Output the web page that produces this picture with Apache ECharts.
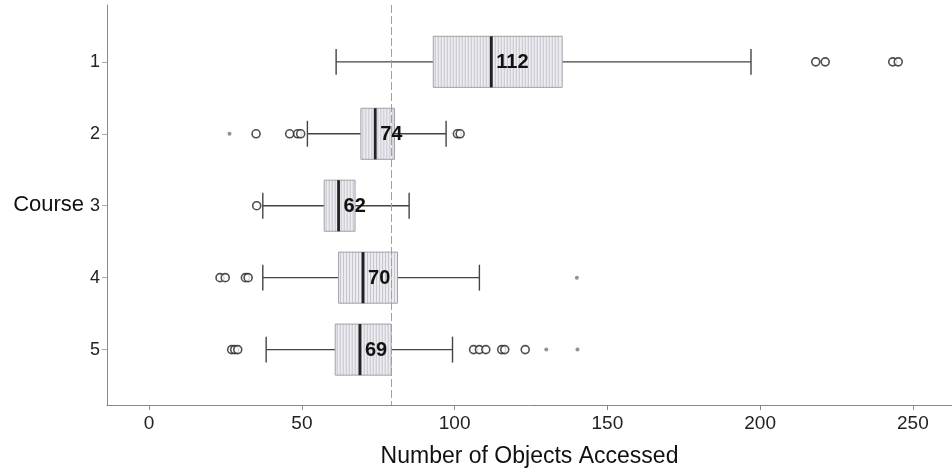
<!DOCTYPE html>
<html><head><meta charset="utf-8">
<script src="https://cdn.jsdelivr.net/npm/echarts@6/dist/echarts.min.js"></script>
<style>html,body{margin:0;padding:0;background:#fff}#c{width:952px;height:469px}</style>
</head><body><div id="c"></div>
<script>
const courses = [1, 2, 3, 4, 5];
const whiskerLow = [61.2, 51.8, 37.2, 37.2, 38.3];
const q1 = [93, 69.3, 57.3, 62, 60.9];
const median = [112, 74, 62, 70, 69];
const q3 = [135.2, 80.3, 67.4, 81.3, 79.2];
const whiskerHigh = [197, 97.2, 85.1, 108.1, 99.3];
const outliers = [
  [218.2, 221.3, 243.4, 245.2],
  [35, 46, 48.6, 49.6, 100.9, 101.8],
  [35.2],
  [23.2, 24.9, 31.5, 32.4],
  [27, 28, 29, 106.2, 108.1, 110.2, 115.4, 116.4, 123.1]
];
const farOutliers = [[], [26.3], [], [140], [130, 140.2]];
const refLine = 79.2;
const xTicks = [0, 50, 100, 150, 200, 250];
const xTitle = 'Number of Objects Accessed';
const yTitle = 'Course';

const FONT = "'Liberation Sans', Arial, sans-serif";
const BOX_H = 0.71, CAP_H = 0.36;

const boxData = courses.map((c, i) => [c, whiskerLow[i], q1[i], median[i], q3[i], whiskerHigh[i]]);
const outData = [];
outliers.forEach((arr, i) => arr.forEach(v => outData.push([v, courses[i]])));
const farData = [];
farOutliers.forEach((arr, i) => arr.forEach(v => farData.push([v, courses[i]])));

function renderItem(params, api) {
  const c = api.value(0);
  const pLo = api.coord([api.value(1), c]);
  const pQ1 = api.coord([api.value(2), c]);
  const pMed = api.coord([api.value(3), c]);
  const pQ3 = api.coord([api.value(4), c]);
  const pHi = api.coord([api.value(5), c]);
  const bh = api.size([0, BOX_H])[1];
  const ch = api.size([0, CAP_H])[1];
  const y = pMed[1];
  const wl = {stroke: '#444', lineWidth: 1.4};
  const children = [
    {type: 'line', shape: {x1: pLo[0], y1: y, x2: pQ1[0], y2: y}, style: wl},
    {type: 'line', shape: {x1: pQ3[0], y1: y, x2: pHi[0], y2: y}, style: wl},
    {type: 'line', shape: {x1: pLo[0], y1: y - ch / 2, x2: pLo[0], y2: y + ch / 2}, style: wl},
    {type: 'line', shape: {x1: pHi[0], y1: y - ch / 2, x2: pHi[0], y2: y + ch / 2}, style: wl},
    {type: 'rect', shape: {x: pQ1[0], y: y - bh / 2, width: pQ3[0] - pQ1[0], height: bh}, style: {fill: '#ececf1', stroke: 'none'}}
  ];
  for (let x = pQ1[0] + 2; x < pQ3[0] - 1; x += 3) {
    children.push({type: 'line', shape: {x1: x, y1: y - bh / 2, x2: x, y2: y + bh / 2}, style: {stroke: '#c4c4cc', lineWidth: 1}});
  }
  children.push({type: 'rect', shape: {x: pQ1[0], y: y - bh / 2, width: pQ3[0] - pQ1[0], height: bh}, style: {fill: 'none', stroke: '#a0a0a8', lineWidth: 1}});
  children.push({type: 'line', shape: {x1: pMed[0], y1: y - bh / 2, x2: pMed[0], y2: y + bh / 2}, style: {stroke: '#222', lineWidth: 2.8}});
  children.push({type: 'text', style: {text: String(api.value(3)), x: pMed[0] + 5, y: y + 1, align: 'left', verticalAlign: 'middle', font: 'bold 20px ' + FONT, fill: '#111'}});
  return {type: 'group', children};
}

const chart = echarts.init(document.getElementById('c'), null, {renderer: 'canvas'});
chart.setOption({
  animation: false,
  backgroundColor: '#fff',
  grid: {left: 107, right: 0, top: 5, bottom: 64, outerBoundsMode: 'none', containLabel: false},
  xAxis: {
    type: 'value', min: -13.8, max: 262.8,
    name: xTitle, nameLocation: 'middle', nameGap: 40,
    nameTextStyle: {fontFamily: FONT, fontSize: 23, color: '#111'},
    axisLine: {show: true, onZero: false, lineStyle: {color: '#888', width: 1}},
    axisTick: {show: true, length: 5, lineStyle: {color: '#888'}, customValues: xTicks},
    axisLabel: {fontFamily: FONT, fontSize: 19, color: '#222', margin: 9, customValues: xTicks},
    splitLine: {show: false}
  },
  yAxis: {
    type: 'value', inverse: true, min: 0.21, max: 5.77,
    name: yTitle, nameLocation: 'middle', nameGap: 22, nameRotate: 0,
    nameTextStyle: {fontFamily: FONT, fontSize: 22, color: '#111', align: 'right', padding: [4, 0, 0, 0]},
    axisLine: {show: true, onZero: false, lineStyle: {color: '#888', width: 1}},
    axisTick: {show: true, length: 5, lineStyle: {color: '#aaa'}, customValues: courses},
    axisLabel: {fontFamily: FONT, fontSize: 18, color: '#222', margin: 7, padding: [4, 0, 0, 0], customValues: courses},
    splitLine: {show: false}
  },
  series: [
    {
      type: 'custom', renderItem: renderItem, data: boxData,
      encode: {x: [1, 2, 3, 4, 5], y: 0}, z: 3
    },
    {
      type: 'scatter', data: outData, symbol: 'circle', symbolSize: 8,
      itemStyle: {color: '#fff', borderColor: '#222', borderWidth: 1.6}, z: 4,
      markLine: {
        silent: true, symbol: 'none', label: {show: false},
        lineStyle: {color: '#a0a0a0', width: 1, type: [8, 3]},
        data: [{xAxis: refLine}]
      }
    },
    {
      type: 'scatter', data: farData, symbol: 'circle', symbolSize: 4,
      itemStyle: {color: '#777'}, z: 4
    }
  ]
});
</script></body></html>
